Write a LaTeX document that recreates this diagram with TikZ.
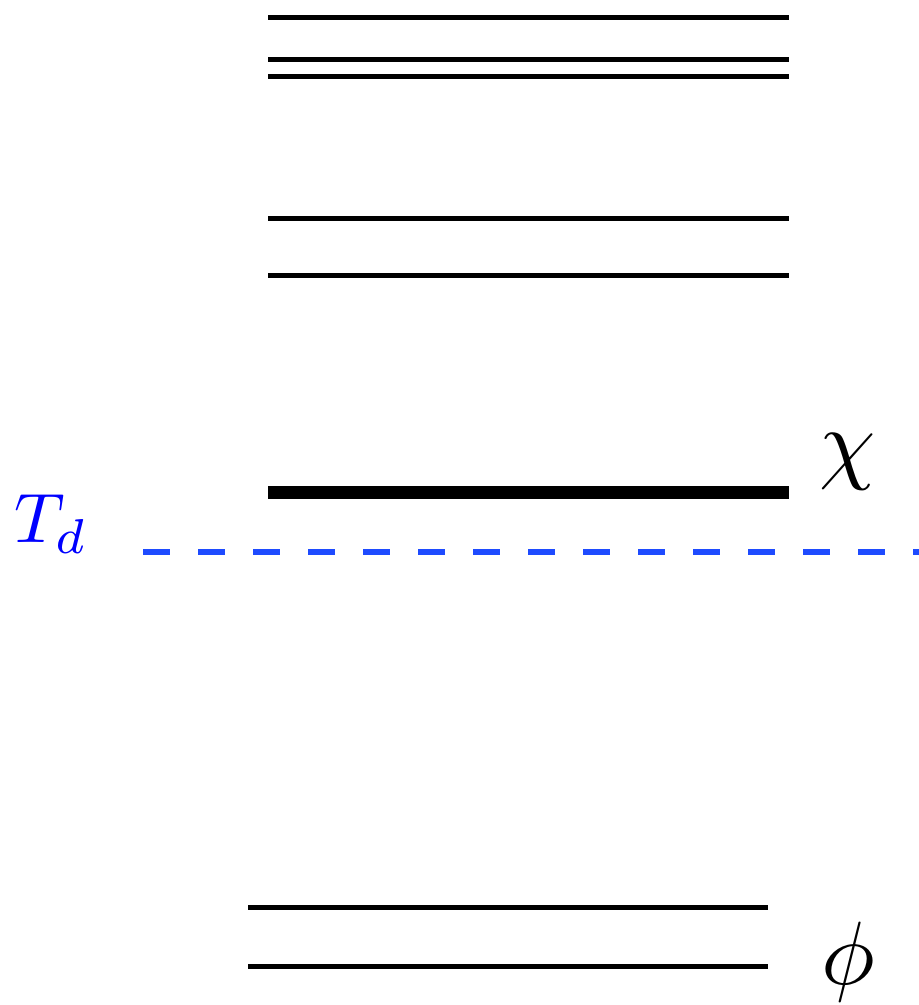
\documentclass[tikz,border=0pt]{standalone}
\begin{document}
\begin{tikzpicture}[x=1pt,y=-1pt,
  level/.style={line width=5pt},
  ground/.style={line width=13pt},
  thermal/.style={line width=6pt, draw=tdblue, dash pattern=on 27pt off 28pt},
  lab/.style={inner sep=0pt, scale=9},
  tlab/.style={inner sep=0pt, scale=7, text=blue}]
\definecolor{tdblue}{RGB}{30,75,255}
\useasboundingbox (0,0) rectangle (919,1005);
\draw[level] (268,17) -- (789,17);
\draw[level] (268,59) -- (789,59);
\draw[level] (268,76) -- (789,76);
\draw[level] (268,218) -- (789,218);
\draw[level] (268,275) -- (789,275);
\draw[ground] (268,492.5) -- (789,492.5);
\draw[thermal] (143,552) -- (919,552);
\draw[level] (248,907) -- (768,907);
\draw[level] (248,966) -- (768,966);
\node[lab] (chi) at (848,462) {$\chi$};
\node[tlab] (td) at (51,524) {$T_d$};
\node[lab] (phi) at (848,962) {$\phi$};
\end{tikzpicture}
\end{document}
